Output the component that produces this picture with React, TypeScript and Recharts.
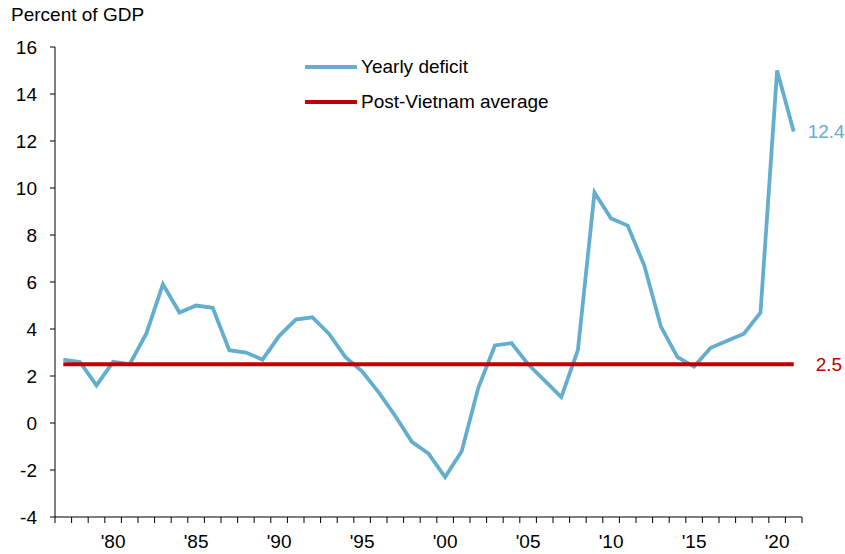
import * as React from "react"
import { LineChart, Line, XAxis, YAxis, Legend } from "recharts"

// Federal deficit as a share of GDP, fiscal years 1977-2021
const years = [
  1977, 1978, 1979, 1980, 1981, 1982, 1983, 1984, 1985, 1986,
  1987, 1988, 1989, 1990, 1991, 1992, 1993, 1994, 1995, 1996,
  1997, 1998, 1999, 2000, 2001, 2002, 2003, 2004, 2005, 2006,
  2007, 2008, 2009, 2010, 2011, 2012, 2013, 2014, 2015, 2016,
  2017, 2018, 2019, 2020, 2021,
]
const yearlyDeficit = [
  2.7, 2.6, 1.6, 2.6, 2.5, 3.8, 5.9, 4.7, 5.0, 4.9,
  3.1, 3.0, 2.7, 3.7, 4.4, 4.5, 3.8, 2.8, 2.2, 1.3,
  0.3, -0.8, -1.3, -2.3, -1.2, 1.5, 3.3, 3.4, 2.5, 1.8,
  1.1, 3.1, 9.8, 8.7, 8.4, 6.7, 4.1, 2.8, 2.4, 3.2,
  3.5, 3.8, 4.7, 15.0, 12.4,
]
const postVietnamAverage = 2.5
const yTicks = [-4, -2, 0, 2, 4, 6, 8, 10, 12, 14, 16]
const legendOrder = ["Yearly deficit", "Post-Vietnam average"]

const data = years.map((year, i) => ({
  year,
  deficit: yearlyDeficit[i],
  average: postVietnamAverage,
}))

const BLUE = "#63AECE"
const RED = "#C00000"
const FONT = "'Liberation Sans', Arial, sans-serif"
const FS = 19
const BAND = 747 / years.length

const YearTick = (props: any) => {
  const { x, y, payload, index } = props
  const year = Number(payload.value)
  const axisY = y - 18
  const left = x - BAND / 2
  return (
    <g>
      <line x1={left} x2={left} y1={axisY} y2={axisY + 6} stroke="#000" />
      {index === years.length - 1 && (
        <line x1={x + BAND / 2} x2={x + BAND / 2} y1={axisY} y2={axisY + 6} stroke="#000" />
      )}
      {year % 5 === 0 && (
        <text x={x} y={y} dy="0.71em" textAnchor="middle" fill="#000" fontSize={FS} fontFamily={FONT}>
          {"'" + String(year).slice(2)}
        </text>
      )}
    </g>
  )
}

const EndLabel = (color: string, dx: number) => (props: any) => {
  const { x, y, index, value } = props
  if (index !== years.length - 1) return null
  return (
    <text x={x + dx} y={y} dy="0.35em" fill={color} fontSize={FS} fontFamily={FONT}>
      {Number(value).toFixed(1)}
    </text>
  )
}

const LegendBox = ({ payload }: any) => {
  const items = [...(payload || [])].sort(
    (a: any, b: any) => legendOrder.indexOf(a.value) - legendOrder.indexOf(b.value),
  )
  return (
    <div style={{ fontFamily: FONT, fontSize: FS, color: "#000" }}>
      {items.map((p: any) => (
        <div key={p.value} style={{ display: "flex", alignItems: "center", height: 35 }}>
          <svg width={52} height={6} style={{ marginRight: 4 }}>
            <line x1={1} x2={51} y1={3} y2={3} stroke={p.color} strokeWidth={4} strokeLinecap="round" />
          </svg>
          <span>{p.value}</span>
        </div>
      ))}
    </div>
  )
}

export default function App() {
  return (
    <div style={{ position: "absolute", left: 0, top: 0, width: 845, height: 554, background: "#fff" }}>
      <div style={{ position: "absolute", left: 11, top: 4, fontFamily: FONT, fontSize: FS, color: "#000" }}>
        Percent of GDP
      </div>
      <LineChart width={845} height={554} data={data} margin={{ top: 47, right: 43, bottom: 0, left: 0 }}>
        <XAxis
          dataKey="year"
          scale="band"
          interval={0}
          height={37}
          tickLine={false}
          tickSize={6}
          tickMargin={12}
          axisLine={{ stroke: "#000" }}
          tick={<YearTick />}
        />
        <YAxis
          domain={[-4, 16]}
          ticks={yTicks}
          width={55}
          tickSize={5}
          tickMargin={13}
          axisLine={{ stroke: "#000" }}
          tickLine={{ stroke: "#000" }}
          tick={{ fill: "#000", fontSize: FS, fontFamily: FONT }}
        />
        <Legend
          layout="horizontal"
          verticalAlign="middle"
          align="center"
          wrapperStyle={{ left: 305, top: 49, width: "auto" }}
          content={<LegendBox />}
        />
        <Line
          dataKey="deficit"
          name="Yearly deficit"
          type="linear"
          stroke={BLUE}
          strokeWidth={3.8}
          dot={false}
          isAnimationActive={false}
          label={EndLabel(BLUE, 14)}
        />
        <Line
          dataKey="average"
          name="Post-Vietnam average"
          type="linear"
          stroke={RED}
          strokeWidth={4}
          dot={false}
          isAnimationActive={false}
          label={EndLabel(RED, 22)}
        />
      </LineChart>
    </div>
  )
}
